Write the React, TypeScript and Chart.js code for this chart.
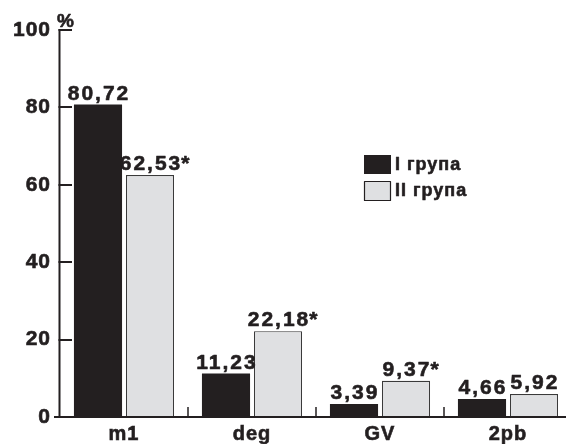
import React, { useEffect, useRef } from "react";
import { Chart, registerables } from "chart.js";

Chart.register(...registerables);

const categories = ["m1", "deg", "GV", "2pb"];
const groupI = [80.72, 11.23, 3.39, 4.66];
const groupII = [62.53, 22.18, 9.37, 5.92];
const groupIIMarks = ["*", "*", "*", ""];
const seriesNames = ["I група", "II група"];
const yTicks = [0, 20, 40, 60, 80, 100];

const INK = "#231f20";
const LIGHT = "#dfe0e2";
const FONT = "'Liberation Sans', Arial, sans-serif";

const fmt = (v: number) => v.toFixed(2).replace(".", ",");

const heavyText = (ctx: any, txt: string, x: number, y: number) => {
  ctx.fillText(txt, x, y);
  ctx.strokeText(txt, x, y);
};

const overlayPlugin = {
  id: "overlay",
  beforeDraw(chart: any) {
    chart.ctx.letterSpacing = "1px";
  },
  afterDatasetsDraw(chart: any) {
    const ctx = chart.ctx;
    const area = chart.chartArea;
    const y = chart.scales.y;
    const x = chart.scales.x;
    ctx.save();
    ctx.strokeStyle = INK;
    ctx.fillStyle = INK;
    ctx.lineCap = "butt";

    // y axis line
    ctx.lineWidth = 2;
    ctx.beginPath();
    ctx.moveTo(area.left - 0.5, y.getPixelForValue(100) - 1);
    ctx.lineTo(area.left - 0.5, area.bottom);
    ctx.stroke();
    // y ticks (inward)
    yTicks.forEach((t) => {
      if (t === 0) return;
      const py = Math.round(y.getPixelForValue(t));
      ctx.beginPath();
      ctx.moveTo(area.left - 1.5, py);
      ctx.lineTo(area.left + 12, py);
      ctx.stroke();
    });
    // x axis line
    const by = Math.round(area.bottom);
    ctx.beginPath();
    ctx.moveTo(area.left - 6, by);
    ctx.lineTo(chart.width, by);
    ctx.stroke();
    // category separators
    ctx.lineWidth = 1.5;
    for (let i = 0; i < categories.length - 1; i++) {
      const px = Math.round((x.getPixelForValue(i) + x.getPixelForValue(i + 1)) / 2);
      ctx.beginPath();
      ctx.moveTo(px, by);
      ctx.lineTo(px, by - 10);
      ctx.stroke();
    }

    ctx.lineWidth = 0.6;
    ctx.lineJoin = "round";

    // % sign
    ctx.font = `bold 19px ${FONT}`;
    ctx.letterSpacing = "0px";
    ctx.textAlign = "left";
    ctx.textBaseline = "alphabetic";
    heavyText(ctx, "%", area.left - 3, y.getPixelForValue(100) - 3);

    // data labels
    ctx.font = `bold 21px ${FONT}`;
    ctx.letterSpacing = "2px";
    ctx.textBaseline = "alphabetic";
    const series = [groupI, groupII];
    series.forEach((vals, di) => {
      const meta = chart.getDatasetMeta(di);
      vals.forEach((v, i) => {
        const el = meta.data[i];
        const txt = fmt(v);
        const w = ctx.measureText(txt).width;
        const left = el.x - w / 2 + 1;
        ctx.textAlign = "left";
        heavyText(ctx, txt, left, el.y - 5);
        if (di === 1 && groupIIMarks[i]) {
          heavyText(ctx, groupIIMarks[i], left + w - 1, el.y - 5);
        }
      });
    });

    // legend
    const lx = 364;
    const ly = 155;
    ctx.letterSpacing = "1px";
    ctx.font = `bold 18px ${FONT}`;
    ctx.fillStyle = INK;
    ctx.fillRect(lx, ly, 27, 19);
    ctx.fillStyle = LIGHT;
    ctx.fillRect(lx, ly + 26, 27, 20);
    ctx.lineWidth = 1.2;
    ctx.strokeStyle = INK;
    ctx.strokeRect(lx + 0.5, ly + 26.5, 26, 19);
    ctx.fillStyle = INK;
    ctx.lineWidth = 0.6;
    ctx.textBaseline = "middle";
    heavyText(ctx, seriesNames[0], lx + 31, ly + 10);
    heavyText(ctx, seriesNames[1], lx + 31, ly + 36);
    ctx.restore();
  },
};

export default function App() {
  const ref = useRef<HTMLCanvasElement | null>(null);
  useEffect(() => {
    if (!ref.current) return;
    const chart = new Chart(ref.current, {
      type: "bar",
      data: {
        labels: categories,
        datasets: [
          {
            label: seriesNames[0],
            data: groupI,
            backgroundColor: INK,
            borderWidth: 0,
            categoryPercentage: 0.8125,
            barPercentage: 0.925,
          },
          {
            label: seriesNames[1],
            data: groupII,
            backgroundColor: LIGHT,
            borderColor: "#3a3a3a",
            borderWidth: 1.2,
            categoryPercentage: 0.8125,
            barPercentage: 0.925,
          },
        ],
      },
      options: {
        responsive: false,
        maintainAspectRatio: false,
        animation: false,
        layout: { padding: { top: 30, right: 8, left: 0, bottom: 0 } },
        plugins: { legend: { display: false }, tooltip: { enabled: false } },
        scales: {
          x: {
            grid: { display: false, drawTicks: false },
            border: { display: false },
            ticks: {
              color: INK,
              padding: 5,
              textStrokeColor: INK,
              textStrokeWidth: 0.6,
              font: { family: FONT, size: 20, weight: "bold" },
            },
            afterFit: (s: any) => {
              s.height = 27;
            },
          },
          y: {
            min: 0,
            max: 100,
            afterBuildTicks: (s: any) => {
              s.ticks = yTicks.map((v) => ({ value: v }));
            },
            grid: { display: false, drawTicks: false },
            border: { display: false },
            ticks: {
              color: INK,
              padding: 9,
              textStrokeColor: INK,
              textStrokeWidth: 0.6,
              font: { family: FONT, size: 21, weight: "bold" },
            },
            afterFit: (s: any) => {
              s.width = 60;
            },
          },
        },
      },
      plugins: [overlayPlugin],
    });
    return () => chart.destroy();
  }, []);
  return (
    <div
      style={{
        position: "fixed",
        left: 0,
        top: 0,
        width: 566,
        height: 444,
        overflow: "hidden",
        background: "#fff",
      }}
    >
      <canvas ref={ref} width={580} height={444} style={{ display: "block" }} />
    </div>
  );
}
